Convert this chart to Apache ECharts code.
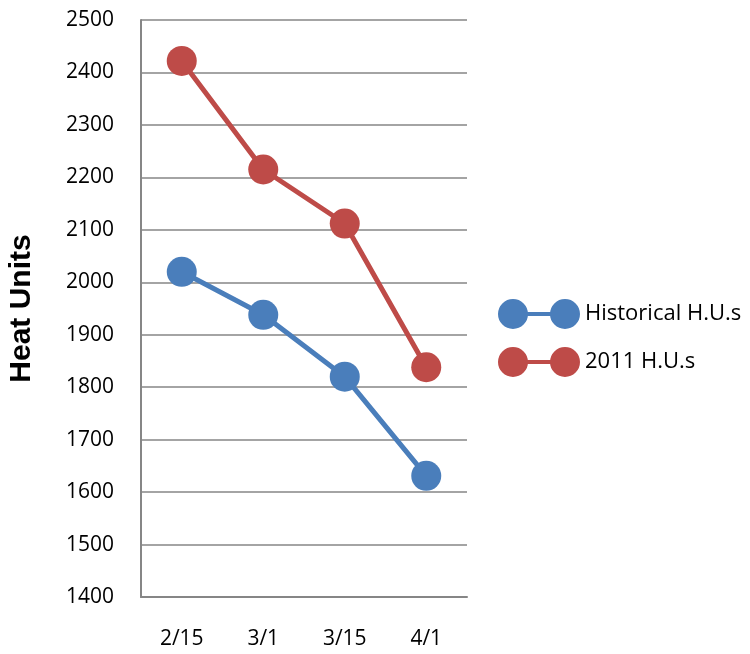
<!DOCTYPE html>
<html><head><meta charset="utf-8">
<script src="https://cdn.jsdelivr.net/npm/echarts@6/dist/echarts.min.js"></script>
<style>html,body{margin:0;padding:0;background:#fff}#c{width:750px;height:654px}</style>
</head><body><div id="c"></div>
<script>
const categories = ['2/15', '3/1', '3/15', '4/1'];
const historical = [2020, 1938, 1820, 1631];
const hu2011 = [2422, 2215, 2112, 1838];
const seriesNames = ['Historical H.U.s', '2011 H.U.s'];
const colors = ['#4A7EBB', '#BE4B48'];

const icon = 'path://M0,15A15,15 0 1,1 30,15A15,15 0 1,1 0,15Z M15,13L67,13L67,17L15,17Z M52,15A15,15 0 1,1 82,15A15,15 0 1,1 52,15Z';
const font = "'Open Sans', 'Liberation Sans', sans-serif";

const chart = echarts.init(document.getElementById('c'));
chart.setOption({
  animation: false,
  color: colors,
  grid: { left: 141, right: 283, top: 20, bottom: 57, containLabel: false },
  legend: {
    orient: 'vertical', left: 493, top: 294,
    itemWidth: 82, itemHeight: 30, itemGap: 18,
    icon: icon,
    textStyle: { fontSize: 22, fontFamily: font, color: '#000', padding: [0,0,0,0] },
    data: seriesNames
  },
  xAxis: {
    type: 'category', data: categories, boundaryGap: true,
    axisLine: { lineStyle: { color: '#868686', width: 2 } },
    axisTick: { show: false },
    axisLabel: { fontSize: 21, fontFamily: font, color: '#000', margin: 32 }
  },
  yAxis: {
    type: 'value', min: 1400, max: 2500, interval: 100,
    name: 'Heat Units', nameLocation: 'middle', nameRotate: 90, nameGap: 104,
    nameTextStyle: { fontSize: 30, fontWeight: 'bold', fontFamily: "'Liberation Sans', Arial, sans-serif", color: '#000' },
    axisLine: { show: true, lineStyle: { color: '#868686', width: 2 } },
    axisTick: { show: false },
    splitLine: { lineStyle: { color: '#868686', width: 1.5 } },
    axisLabel: { fontSize: 21, fontFamily: font, color: '#000', margin: 27, formatter: v => String(v) }
  },
  series: [
    { name: seriesNames[0], type: 'line', data: historical, symbol: 'circle', symbolSize: 30,
      lineStyle: { width: 5 }, itemStyle: { color: colors[0] } },
    { name: seriesNames[1], type: 'line', data: hu2011, symbol: 'circle', symbolSize: 30,
      lineStyle: { width: 5 }, itemStyle: { color: colors[1] } }
  ]
});
</script></body></html>
